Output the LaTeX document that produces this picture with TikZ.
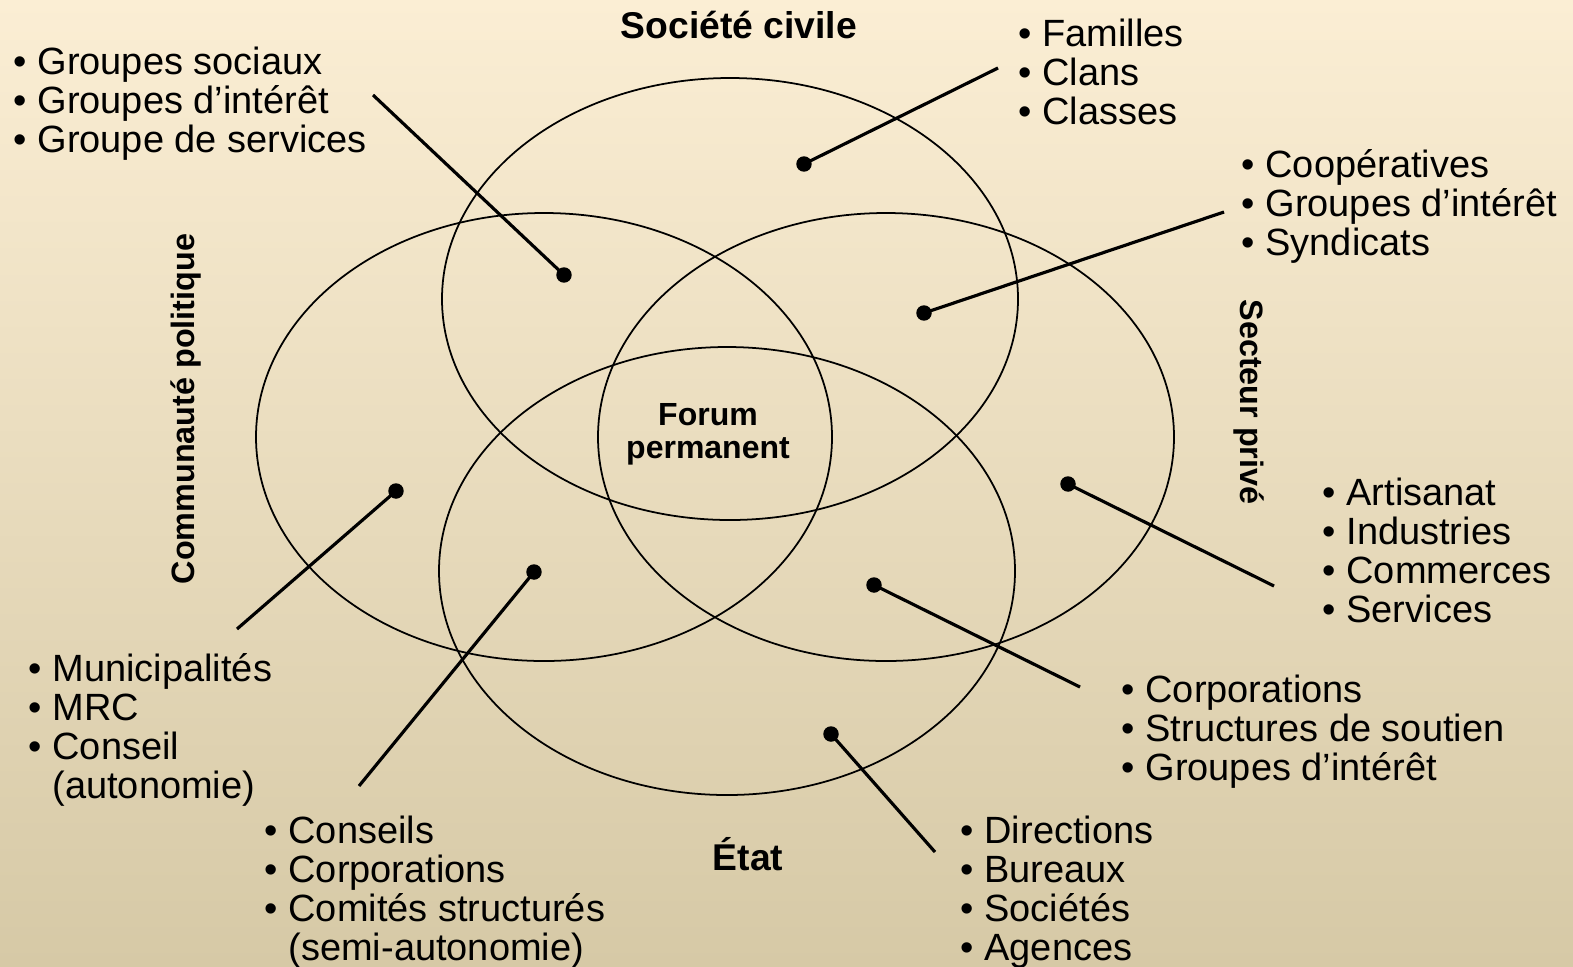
\documentclass[tikz,border=0pt]{standalone}
\usepackage{fontspec}
\setmainfont{Liberation Sans}

\definecolor{creamtop}{RGB}{251,238,212}
\definecolor{creammid}{RGB}{243,233,211}
\definecolor{creambot}{RGB}{214,201,166}

\tikzset{
  zone/.style={draw=black, line width=0.5pt},
  point/.style={circle, fill=black, inner sep=0pt, minimum size=4.4pt},
  connector/.style={draw=black, line width=0.9pt},
  liste/.style={anchor=north west, inner sep=0pt, align=left, yshift=9pt,
    font=\fontsize{10.8}{11.1}\selectfont},
  titre/.style={inner sep=0pt, font=\bfseries\fontsize{10.6}{11}\selectfont},
  axe/.style={inner sep=0pt, font=\bfseries\fontsize{9.2}{10}\selectfont},
}
\newcommand{\puce}{\rule{0pt}{9pt}\textbullet\ }
\newcommand{\suite}{\phantom{\textbullet\ }}

\begin{document}
\begin{tikzpicture}[x=0.01cm, y=-0.01cm]
  % Background with a soft vertical gradient
  \shade[top color=creamtop, middle color=creammid, bottom color=creambot]
    (0,0) rectangle (1573,966);
  \useasboundingbox (0,0) rectangle (1573,966);

  % The four overlapping zones
  \draw[zone] (730,299) ellipse [x radius=288, y radius=221];
  \draw[zone] (544,437) ellipse [x radius=288, y radius=224];
  \draw[zone] (886,437) ellipse [x radius=288, y radius=224];
  \draw[zone] (727,571) ellipse [x radius=288, y radius=224];

  % Zone titles
  \node[titre] (civile) at (739,25) {Société civile};
  \node[titre] (etat) at (748,854) {État};
  \node[axe, rotate=90] (politique) at (186,409) {Communauté politique};
  \node[axe, rotate=-90] (prive) at (1249,402) {Secteur privé};
  \node[axe, align=center, font=\bfseries\fontsize{9.1}{9.4}\selectfont]
    (forum) at (708,434) {Forum\\permanent};

  % Bullet lists
  \node[liste] (groupes) at (13,74) {\puce Groupes sociaux\\\textbullet\ Groupes d’intérêt\\\textbullet\ Groupe de services};
  \node[liste] (familles) at (1018,46) {\puce Familles\\\textbullet\ Clans\\\textbullet\ Classes};
  \node[liste] (coop) at (1241,177) {\puce Coopératives\\\textbullet\ Groupes d’intérêt\\\textbullet\ Syndicats};
  \node[liste] (artisanat) at (1322,505) {\puce Artisanat\\\textbullet\ Industries\\\textbullet\ Commerces\\\textbullet\ Services};
  \node[liste] (corpo) at (1121,702) {\puce Corporations\\\textbullet\ Structures de soutien\\\textbullet\ Groupes d’intérêt};
  \node[liste] (munic) at (28,681) {\puce Municipalités\\\textbullet\ MRC\\\textbullet\ Conseil\\\suite(autonomie)};
  \node[liste] (conseils) at (264,843) {\puce Conseils\\\textbullet\ Corporations\\\textbullet\ Comités structurés\\\suite(semi-autonomie)};
  \node[liste] (directions) at (960,843) {\puce Directions\\\textbullet\ Bureaux\\\textbullet\ Sociétés\\\textbullet\ Agences};

  % Dots in each region and the free ends of the pointers
  \foreach \name/\px/\py/\ex/\ey in {
      fam/804/164/998/68, grp/564/275/373/95, coo/924/313/1224/212,
      mun/396/491/237/629, art/1068/484/1274/586, con/534/572/359/786,
      cor/874/585/1080/687, dir/831/734/935/852} {
    \node[point] (p\name) at (\px,\py) {};
    \coordinate (e\name) at (\ex,\ey);
  }
  \foreach \name in {fam, grp, coo, mun, art, con, cor, dir}
    \draw[connector] (p\name.center) -- (e\name);
\end{tikzpicture}
\end{document}
